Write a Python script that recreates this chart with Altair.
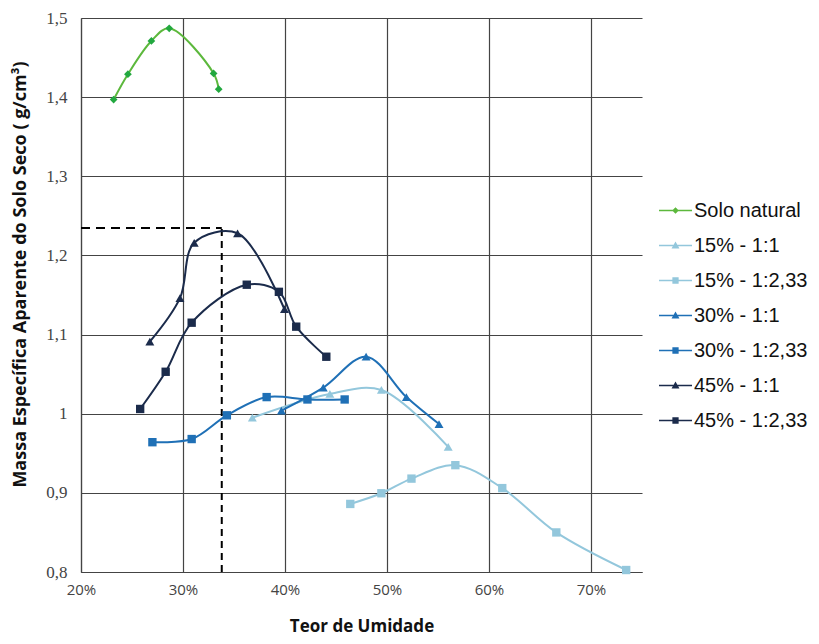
import altair as alt
import pandas as pd

series_names = ["Solo natural", "15% - 1:1", "15% - 1:2,33", "30% - 1:1",
                "30% - 1:2,33", "45% - 1:1", "45% - 1:2,33"]
series_colors = ["#5cb83c", "#93c7dc", "#93c7dc", "#1f70b6",
                 "#1f70b6", "#1b2b4b", "#1b2b4b"]
point_colors = ["#22a83f", "#93c7dc", "#93c7dc", "#1f70b6",
                "#1f70b6", "#1b2b4b", "#1b2b4b"]
series_markers = ["diamond", "triangle-up", "square", "triangle-up",
                  "square", "triangle-up", "square"]

solo_x = [23.2, 24.6, 26.9, 28.65, 33.0, 33.5]
solo_y = [1.397, 1.429, 1.471, 1.487, 1.430, 1.410]

s15_11_x = [36.8, 44.4, 49.45, 56.0]
s15_11_y = [0.995, 1.025, 1.030, 0.958]

s15_233_x = [46.4, 49.45, 52.4, 56.7, 61.3, 66.6, 73.45]
s15_233_y = [0.886, 0.8995, 0.918, 0.935, 0.906, 0.850, 0.8025]

s30_11_x = [39.65, 43.75, 47.95, 51.9, 55.1]
s30_11_y = [1.004, 1.033, 1.072, 1.021, 0.987]

s30_233_x = [27.0, 30.85, 34.3, 38.2, 42.2, 45.85]
s30_233_y = [0.964, 0.968, 0.998, 1.021, 1.018, 1.018]

s45_11_x = [26.75, 29.7, 31.1, 35.35, 39.95]
s45_11_y = [1.091, 1.146, 1.216, 1.228, 1.132]

s45_233_x = [25.8, 28.3, 30.85, 36.25, 39.4, 41.1, 44.05]
s45_233_y = [1.006, 1.053, 1.115, 1.163, 1.154, 1.110, 1.072]

opt_x = 33.8
opt_y = 1.2345

x_ticks = [20, 30, 40, 50, 60, 70]
y_ticks = [0.8, 0.9, 1.0, 1.1, 1.2, 1.3, 1.4, 1.5]

all_x = [solo_x, s15_11_x, s15_233_x, s30_11_x, s30_233_x, s45_11_x, s45_233_x]
all_y = [solo_y, s15_11_y, s15_233_y, s30_11_y, s30_233_y, s45_11_y, s45_233_y]

rows = []
for name, mk, xs, ys in zip(series_names, series_markers, all_x, all_y):
    for i, (xv, yv) in enumerate(zip(xs, ys)):
        rows.append({"serie": name, "marker": mk, "x": xv, "y": yv, "i": i})
df = pd.DataFrame(rows)

# legend symbols: line segment + marker
line_part = "M-1,-0.05L1,-0.05L1,0.05L-1,0.05Z"
marker_paths = {
    "diamond": "M0,-0.2L0.2,0L0,0.2L-0.2,0Z",
    "triangle-up": "M0,-0.24L0.24,0.18L-0.24,0.18Z",
    "square": "M-0.19,-0.19L0.19,-0.19L0.19,0.19L-0.19,0.19Z",
}
legend_shapes = [line_part + marker_paths[m] for m in series_markers]

x_scale = alt.Scale(domain=[20, 75], nice=False, zero=False)
y_scale = alt.Scale(domain=[0.8, 1.5], nice=False, zero=False)

x_axis = alt.Axis(values=x_ticks, labelExpr="datum.value + '%'", title="Teor de Umidade",
                  grid=True, ticks=False, labelFlush=False, labelFont="Open Sans",
                  labelFontSize=15, labelColor="#444444", labelPadding=10,
                  titleFont="Open Sans", titleFontSize=17, titleFontWeight="bold",
                  titleColor="#111111", titleY=54, titleBaseline="middle",
                  domainColor="#444444")
y_axis = alt.Axis(values=y_ticks, labelExpr="replace(format(datum.value, '.1~f'), '.', ',')",
                  title="Massa Específica Aparente do Solo Seco ( g/cm³)",
                  grid=True, ticks=False, labelFlush=False, labelFont="Liberation Serif",
                  labelFontSize=17, labelColor="#444444", labelPadding=14, titleFont="Open Sans",
                  titleFontSize=18, titleFontWeight="bold", titleColor="#111111",
                  titleX=-61, titleY=256, titleAngle=-90, titleAlign="center",
                  titleBaseline="middle", domainColor="#444444")

base = alt.Chart(df)

lines = base.mark_line(strokeWidth=2, interpolate="catmull-rom").encode(
    x=alt.X("x:Q", scale=x_scale, axis=x_axis),
    y=alt.Y("y:Q", scale=y_scale, axis=y_axis),
    stroke=alt.Stroke("serie:N", scale=alt.Scale(domain=series_names, range=series_colors),
                      legend=None),
    detail="serie:N",
    order="i:Q",
)

fill_scale = alt.Scale(domain=series_names, range=point_colors)
marker_sizes = {"diamond": 60, "triangle-up": 80, "square": 70}
marker_layers = []
for mk in ["diamond", "triangle-up", "square"]:
    marker_layers.append(
        base.transform_filter(alt.datum.marker == mk)
        .mark_point(filled=True, opacity=1, size=marker_sizes[mk], shape=mk)
        .encode(x="x:Q", y="y:Q",
                fill=alt.Fill("serie:N", scale=fill_scale, legend=None))
    )

dash_df = pd.DataFrame({"x0": [20, opt_x], "x1": [opt_x, opt_x],
                        "y0": [opt_y, 0.8], "y1": [opt_y, opt_y]})
dash_h = alt.Chart(dash_df.iloc[[0]]).mark_rule(color="black", strokeWidth=2, strokeDash=[9, 6]).encode(
    x="x0:Q", x2="x1:Q", y="y0:Q")
dash_v = alt.Chart(dash_df.iloc[[1]]).mark_rule(color="black", strokeWidth=2, strokeDash=[7, 5]).encode(
    x="x0:Q", y="y0:Q", y2="y1:Q")

leg = alt.Legend(title=None, orient="none", legendX=578, legendY=176,
                 symbolSize=1089, labelFont="Liberation Sans",
                 labelFontSize=20, labelColor="#111111",
                 labelOffset=2, rowPadding=8, symbolStrokeWidth=0,
                 symbolOpacity=1, labelLimit=300)
legend_layer = base.transform_filter("false").mark_point(filled=True).encode(
    x="x:Q", y="y:Q",
    color=alt.Color("serie:N", scale=alt.Scale(domain=series_names, range=series_colors),
                    legend=leg),
    shape=alt.Shape("serie:N", scale=alt.Scale(domain=series_names, range=legend_shapes),
                    legend=leg),
)

chart = alt.layer(dash_h, dash_v, lines, *marker_layers, legend_layer).resolve_scale(
    color="independent", shape="independent"
).properties(
    width=561, height=554,
    autosize=alt.AutoSizeParams(type="none"),
    padding={"left": 73, "top": 10, "right": 169, "bottom": 63},
).configure_view(stroke=None).configure_axis(
    gridColor="#444444", gridWidth=1.2, gridOpacity=1, domainWidth=1.2
)

chart.save("out.html", embed_options={"renderer": "svg", "actions": False})
